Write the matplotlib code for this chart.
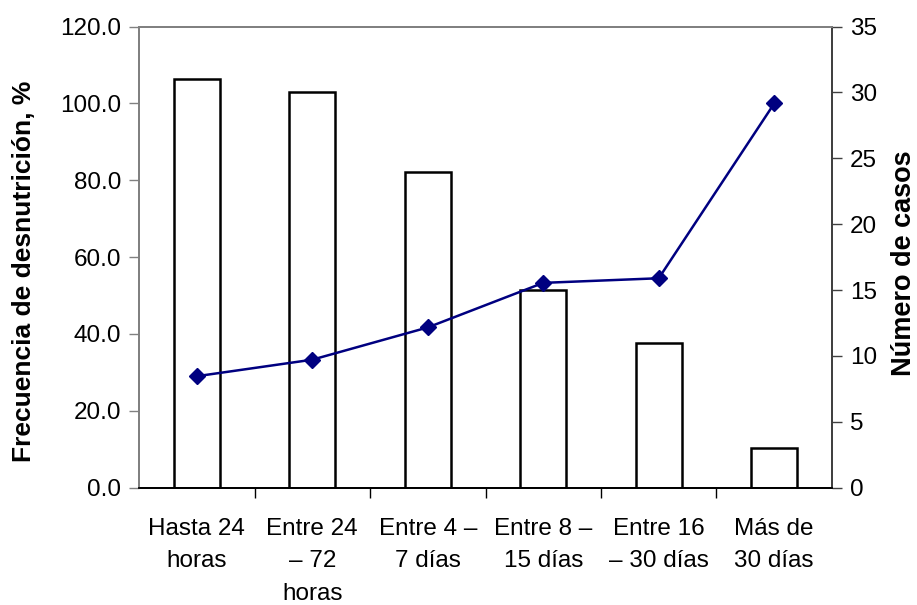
import matplotlib.pyplot as plt
from matplotlib.ticker import FormatStrFormatter, FixedLocator, NullFormatter

plt.rcParams['font.family'] = ['Liberation Sans', 'DejaVu Sans']

# Datos
categorias = ["Hasta 24\nhoras", "Entre 24\n– 72\nhoras", "Entre 4 –\n7 días",
              "Entre 8 –\n15 días", "Entre 16\n– 30 días", "Más de\n30 días"]
casos = [31, 30, 24, 15, 11, 3]
frecuencia = [29.0, 33.3, 41.7, 53.3, 54.5, 100.0]

fig = plt.figure(figsize=(9.17, 6.05), dpi=100)
ax = fig.add_axes([0.1516, 0.194, 0.7557, 0.762])
ax2 = ax.twinx()

x = list(range(len(categorias)))

# barras (eje derecho)
ax2.bar(x, casos, width=0.4, color='white', edgecolor='black', linewidth=1.8)
ax2.set_ylim(0, 35)
ax2.set_yticks(range(0, 36, 5))

# linea (eje izquierdo), encima de las barras
ax.set_zorder(ax2.get_zorder() + 1)
ax.patch.set_visible(False)
ax.plot(x, frecuencia, color='#000080', marker='D', markersize=8, linewidth=1.8)
ax.set_ylim(0, 120)
ax.set_yticks(range(0, 121, 20))
ax.yaxis.set_major_formatter(FormatStrFormatter('%.1f'))
ax.set_xlim(-0.5, 5.5)

ax.set_xticks(x)
ax.set_xticklabels(categorias, linespacing=1.6)
ax.tick_params(axis='x', length=0, labelsize=17.5, pad=22)
ax.xaxis.set_minor_locator(FixedLocator([0.5, 1.5, 2.5, 3.5, 4.5]))
ax.xaxis.set_minor_formatter(NullFormatter())
ax.tick_params(axis='x', which='minor', length=7, width=1, color='black', direction='out')

ax.tick_params(axis='y', labelsize=17.5, length=7, width=1, color='#808080', pad=6)
ax2.tick_params(axis='y', labelsize=17.5, length=7, width=1, color='#404040', pad=6)

for a in (ax, ax2):
    a.spines['top'].set_color('#808080')
    a.spines['left'].set_color('#808080')
    a.spines['right'].set_color('#404040')
    a.spines['bottom'].set_color('black')
    for s in a.spines.values():
        s.set_linewidth(1.3)

# titulos de los ejes
fig.text(0.0262, 0.552, "Frecuencia de desnutrición, %", fontsize=19, fontweight='bold',
         rotation=90, ha='center', va='center')
fig.text(0.986, 0.565, "Número de casos", fontsize=19.5, fontweight='bold',
         rotation=90, ha='center', va='center')

fig.savefig("out.png", dpi=100)
